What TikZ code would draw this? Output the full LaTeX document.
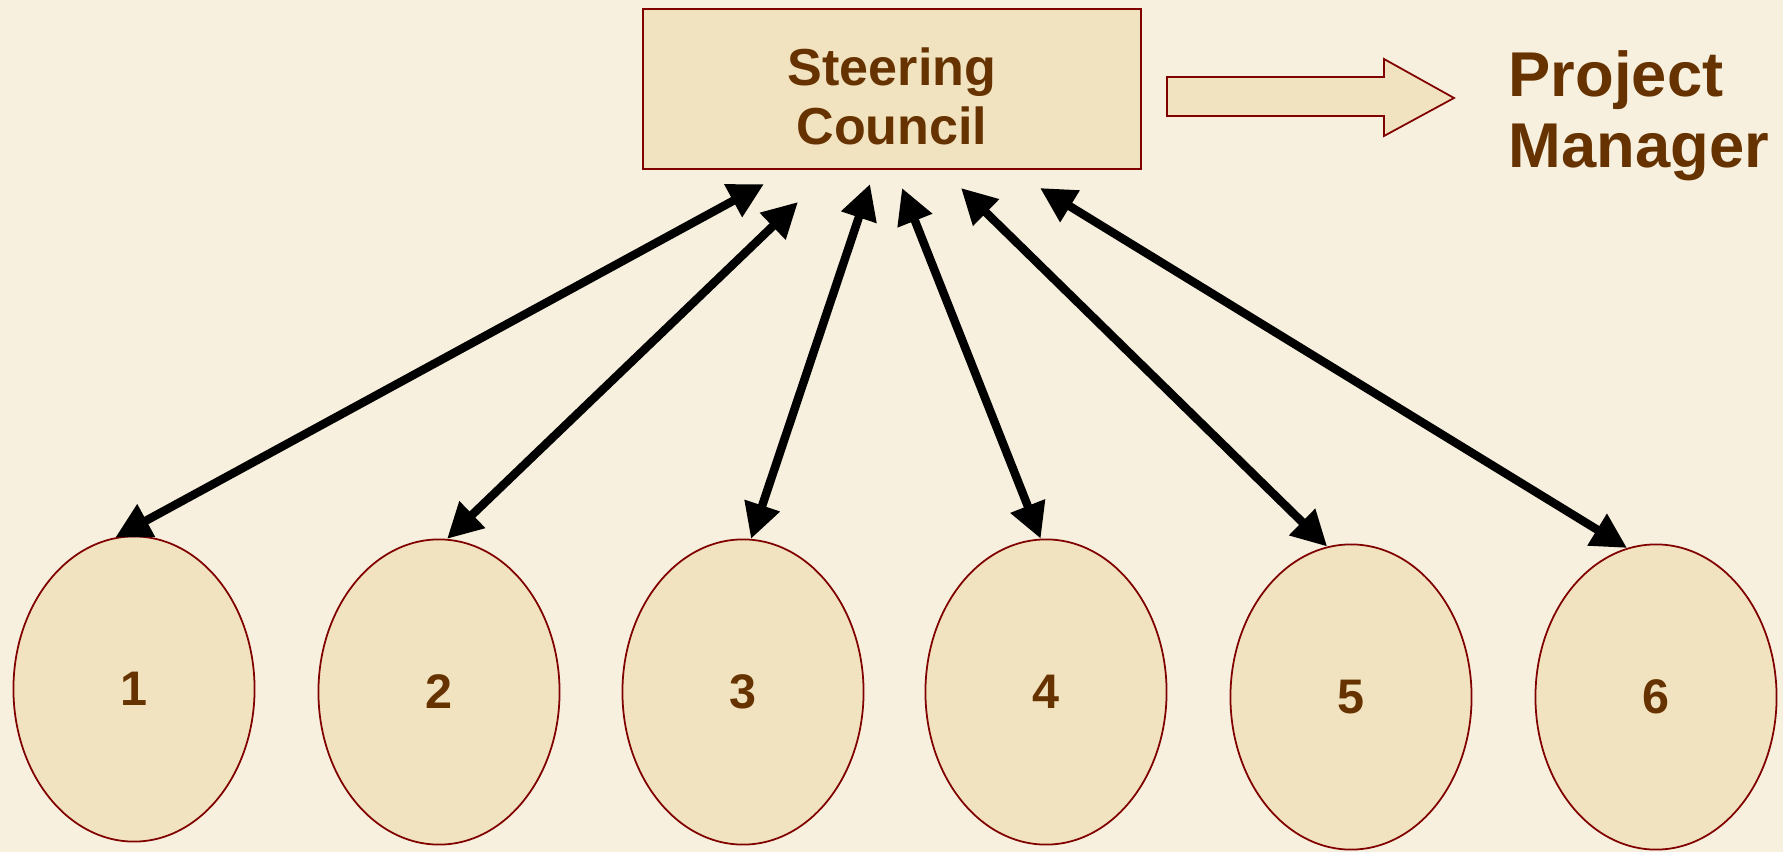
\documentclass[tikz,border=0pt]{standalone}
\usepackage{fontspec}
\setmainfont{Liberation Sans}
\usetikzlibrary{arrows.meta,shapes.geometric}
\definecolor{paper}{RGB}{248,240,222}
\definecolor{tan}{RGB}{241,226,192}
\definecolor{rim}{RGB}{128,0,0}
\definecolor{ink}{RGB}{102,51,0}
\tikzset{
  px/.style={x=0.01cm,y=-0.01cm},
  council/.style={draw=rim,line width=0.5pt,fill=tan,minimum width=4.97cm,minimum height=1.6cm,inner sep=0pt},
  councilname/.style={align=center,text=ink,font=\fontsize{14.8}{16.8}\selectfont\bfseries,inner sep=0pt},
  member/.style={ellipse,draw=rim,line width=0.5pt,fill=tan,minimum width=2.41cm,minimum height=3.05cm,
    text=ink,font=\fontsize{13.8}{16}\selectfont\bfseries,inner sep=0pt},
  bigtitle/.style={text=ink,font=\fontsize{18}{20.2}\selectfont\bfseries,align=left,inner sep=0pt},
  link/.style={line width=2.4pt,{Triangle[length=10pt,width=10pt]}-{Triangle[length=10pt,width=10pt]}},
  blockarrow/.style={draw=rim,line width=0.5pt,fill=tan}
}
\begin{document}
\begin{tikzpicture}[px]
  \fill[paper] (0,0) rectangle (1783,852);
  \useasboundingbox (0,0) rectangle (1783,852);

  % steering council box and its title
  \node[council] (sc) at (892,89) {};
  \node[councilname] (scname) at (892,96) {Steering\\Council};

  % block arrow pointing to the project manager
  \draw[blockarrow] (1167,77) -- (1384,77) -- (1384,59) -- (1454,98) -- (1384,136)
    -- (1384,116) -- (1167,116) -- cycle;
  \node[bigtitle,anchor=west] (pm) at (1508,116) {Project\\Manager};

  % the six member groups
  \node[member] (e1) at (134,689) {1};
  \node[member] (e2) at (439,692) {2};
  \node[member] (e3) at (743,692) {3};
  \node[member] (e4) at (1046,692) {4};
  \node[member] (e5) at (1351,697) {5};
  \node[member] (e6) at (1656,697) {6};

  % free upper ends of the links, just below the council
  \coordinate (t1) at (764,184);
  \coordinate (t2) at (798,202);
  \coordinate (t3) at (870,184);
  \coordinate (t4) at (902,188);
  \coordinate (t5) at (961,188);
  \coordinate (t6) at (1040,188);

  \draw[link] (e1.97) -- (t1);
  \draw[link] (e2.87) -- (t2);
  \draw[link] (e3.87) -- (t3);
  \draw[link] (e4.92) -- (t4);
  \draw[link] (e5.99) -- (t5);
  \draw[link] (e6.101) -- (t6);
\end{tikzpicture}
\end{document}
